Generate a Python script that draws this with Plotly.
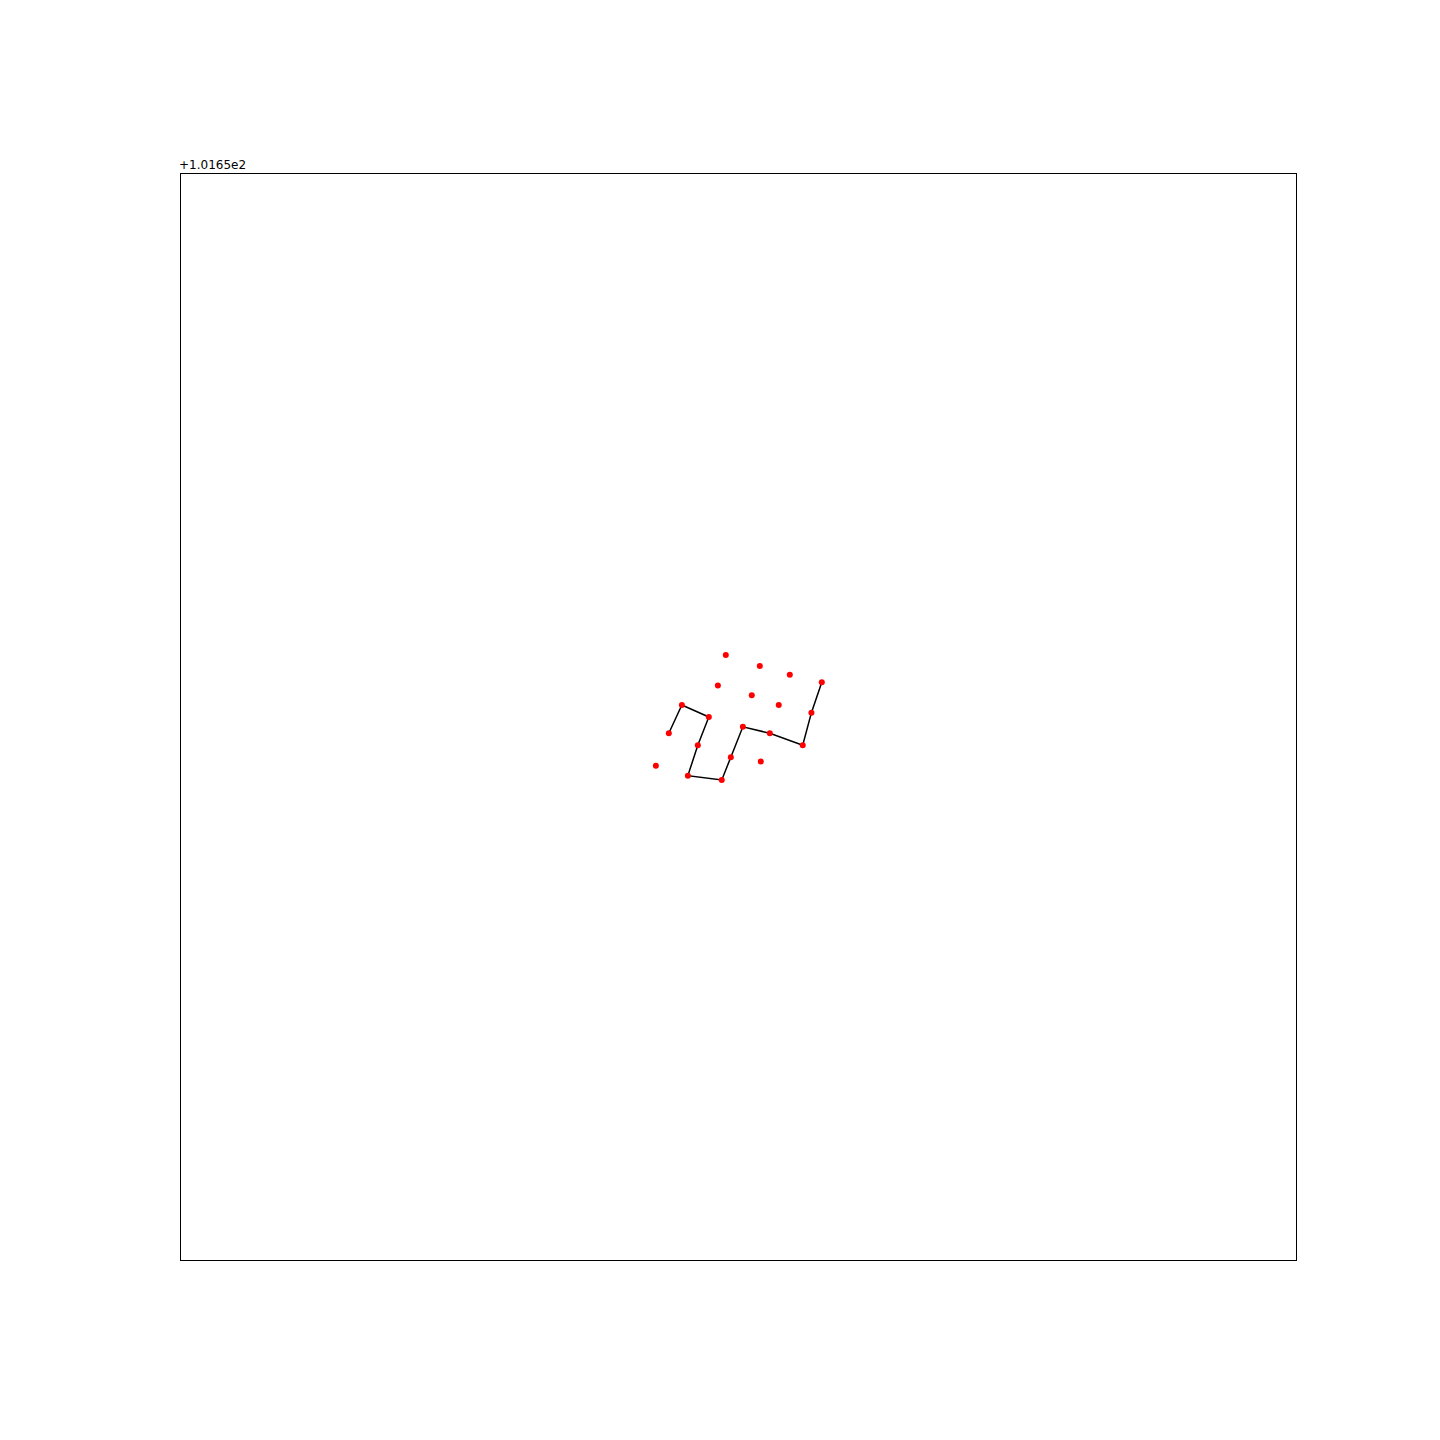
import plotly.graph_objects as go

# Point coordinates (x in axis units, y near 101.65)
point_x = [0.4886, 0.5191, 0.5460, 0.5747, 0.4815, 0.5119, 0.5361, 0.5654,
           0.4492, 0.4734, 0.5039, 0.5281, 0.5576, 0.4375, 0.4635, 0.4931,
           0.5200, 0.4259, 0.4546, 0.4850]
point_y = [101.6500557, 101.6500547, 101.6500539, 101.6500532, 101.6500529,
           101.6500520, 101.6500511, 101.6500504, 101.6500511, 101.6500500,
           101.6500491, 101.6500485, 101.6500474, 101.6500485, 101.6500474,
           101.6500463, 101.6500459, 101.6500455, 101.6500446, 101.6500442]

# Path through the points (indices into the point arrays)
path_order = [13, 8, 9, 14, 18, 19, 15, 10, 11, 12, 7, 3]

path_x = [point_x[i] for i in path_order]
path_y = [point_y[i] for i in path_order]

y_min, y_max = 101.65, 101.6501

fig = go.Figure()
fig.add_trace(go.Scatter(x=path_x, y=path_y, mode="lines",
                         line=dict(color="black", width=1.5),
                         hoverinfo="skip", showlegend=False))
fig.add_trace(go.Scatter(x=point_x, y=point_y, mode="markers",
                         marker=dict(color="red", size=6, line=dict(width=0)),
                         showlegend=False))

axis_common = dict(showgrid=False, zeroline=False, showticklabels=False,
                   ticks="", showline=True, mirror=True,
                   linecolor="black", linewidth=1)
fig.update_xaxes(range=[0, 1], **axis_common)
fig.update_yaxes(range=[y_min, y_max], **axis_common)

fig.add_annotation(text="+1.0165e2", xref="paper", yref="paper",
                   x=0, y=1, xanchor="left", yanchor="bottom",
                   showarrow=False, xshift=-4, yshift=0,
                   font=dict(family="DejaVu Sans", size=12, color="black"))

fig.update_layout(width=1440, height=1440,
                  margin=dict(l=173, r=152, t=166, b=188),
                  plot_bgcolor="white", paper_bgcolor="white",
                  font=dict(family="DejaVu Sans"))

fig.write_html("out.html")
